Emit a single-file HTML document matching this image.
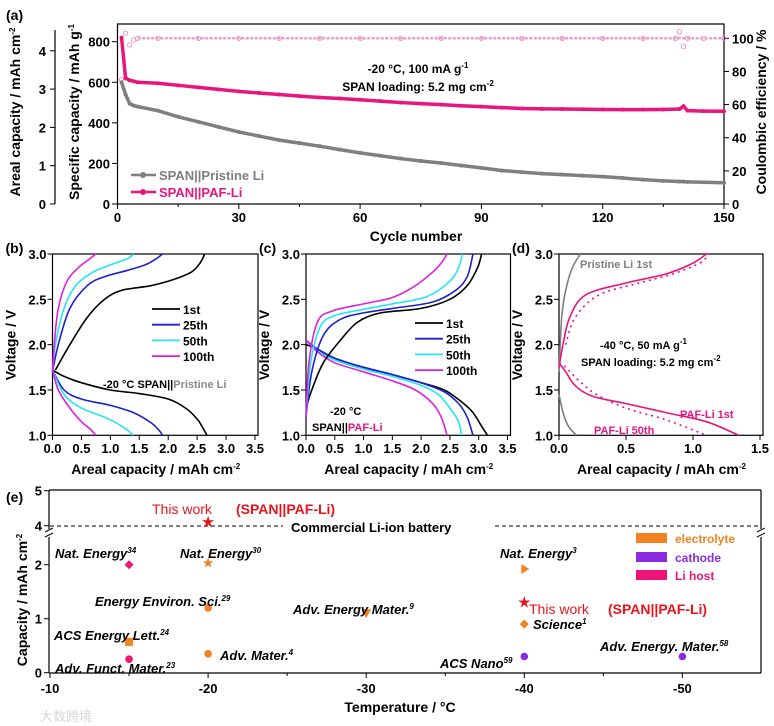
<!DOCTYPE html>
<html><head><meta charset="utf-8"><style>
body{margin:0;background:#fff;}
svg{display:block;font-family:"Liberation Sans",Arial,sans-serif;font-weight:bold;}
</style></head><body>
<svg id="fig" width="774" height="726" viewBox="0 0 774 726" xmlns="http://www.w3.org/2000/svg"></svg>
<script>
// ---------- Panel (a) data ----------
const cyclesA = [1,2,3,4,5,10,15,20,25,30,35,40,45,50,55,60,65,70,75,80,85,90,95,100,105,110,115,120,125,130,135,139,140,141,145,150];
const pristineCap = [600,540,495,485,480,460,430,405,380,355,335,315,300,285,268,252,238,224,212,202,190,178,165,157,150,145,140,135,128,120,114,111,110,109,107,105];
const pafCap = [820,620,610,605,600,595,585,575,565,555,547,540,532,525,520,514,507,500,495,490,484,480,475,471,469,468,467,466,465,465,466,468,482,460,458,457];
const ceCycles = [1,2,3,4,5,10,20,30,40,50,60,70,80,90,100,110,120,130,138,139,140,141,145,150];
const ceVals = [75,103,96,99,100,100,100,100,100,100,100,100,100,100,100,100,100,100,100,104,95,100,100,100];
const xTicksA = [0,30,60,90,120,150];
const yTicksSpec = [0,200,400,600,800];
const yTicksAreal = [0,1,2,3,4];
const yTicksCE = [0,20,40,60,80,100];

// ---------- Panel (b) data ----------
const legendB = ["1st","25th","50th","100th"];
const colorsBC = ["#000000","#1f1fd0","#22e6f0","#e020e0"];
const dischB = [
 [[0,1.72],[0.2,1.65],[0.5,1.58],[1.0,1.5],[1.5,1.46],[2.0,1.4],[2.3,1.3],[2.5,1.18],[2.6,1.08],[2.67,1.0]],
 [[0,1.72],[0.2,1.5],[0.5,1.4],[1.0,1.33],[1.4,1.25],[1.7,1.14],[1.85,1.05],[1.9,1.0]],
 [[0,1.72],[0.2,1.45],[0.5,1.3],[0.9,1.2],[1.2,1.1],[1.4,1.0]],
 [[0,1.72],[0.1,1.5],[0.3,1.3],[0.5,1.15],[0.65,1.07],[0.75,1.0]]];
const chargeB = [
 [[0.05,1.72],[0.3,2.0],[0.6,2.3],[0.9,2.5],[1.2,2.6],[1.7,2.65],[2.1,2.72],[2.4,2.8],[2.55,2.9],[2.63,3.0]],
 [[0,1.7],[0.1,2.0],[0.3,2.4],[0.6,2.65],[0.9,2.75],[1.3,2.82],[1.6,2.88],[1.8,2.95],[1.9,3.0]],
 [[0,1.7],[0.05,2.0],[0.2,2.4],[0.4,2.65],[0.7,2.8],[1.0,2.88],[1.3,2.95],[1.4,3.0]],
 [[0,1.7],[0.03,2.0],[0.1,2.4],[0.25,2.7],[0.45,2.85],[0.65,2.95],[0.75,3.0]]];
// ---------- Panel (c) data ----------
const dischC = [
 [[0,2.0],[0.2,1.95],[0.5,1.85],[1.0,1.75],[1.5,1.67],[2.0,1.58],[2.4,1.5],[2.7,1.37],[2.9,1.25],[3.05,1.1],[3.15,1.0]],
 [[0,2.05],[0.2,1.95],[0.5,1.85],[1.0,1.75],[1.5,1.67],[2.0,1.58],[2.4,1.48],[2.65,1.35],[2.8,1.2],[2.9,1.0]],
 [[0,2.05],[0.2,1.93],[0.5,1.83],[1.0,1.73],[1.5,1.65],[2.0,1.55],[2.3,1.45],[2.5,1.3],[2.65,1.15],[2.7,1.0]],
 [[0,2.05],[0.2,1.92],[0.5,1.8],[1.0,1.7],[1.5,1.6],[1.9,1.5],[2.2,1.35],[2.35,1.2],[2.45,1.0]]];
const chargeC = [
 [[0,1.3],[0.1,1.5],[0.3,1.8],[0.6,2.05],[0.9,2.25],[1.3,2.35],[2.0,2.4],[2.5,2.5],[2.8,2.65],[2.98,2.85],[3.05,3.0]],
 [[0,1.2],[0.1,1.7],[0.3,2.1],[0.6,2.28],[1.0,2.35],[1.5,2.4],[2.2,2.47],[2.6,2.6],[2.8,2.75],[2.9,3.0]],
 [[0,1.2],[0.08,1.8],[0.25,2.2],[0.5,2.32],[1.0,2.39],[1.5,2.45],[2.1,2.53],[2.5,2.7],[2.65,2.85],[2.72,3.0]],
 [[0,1.2],[0.05,1.8],[0.2,2.25],[0.45,2.37],[1.0,2.45],[1.5,2.52],[1.9,2.65],[2.2,2.8],[2.35,2.9],[2.45,3.0]]];
const xTicksBC = [0,0.5,1.0,1.5,2.0,2.5,3.0,3.5];
const yTicksV = [1.0,1.5,2.0,2.5,3.0];
// ---------- Panel (d) data ----------
const pristineD = [[0.16,3.0],[0.1,2.85],[0.05,2.6],[0.02,2.3],[0,1.7]];
const pristineDdis = [[0,1.45],[0.03,1.25],[0.07,1.1],[0.13,1.0]];
const paf1Dis = [[0,1.8],[0.05,1.7],[0.12,1.55],[0.25,1.43],[0.5,1.35],[0.8,1.25],[1.1,1.15],[1.34,1.0]];
const paf1Chg = [[0,1.75],[0.03,2.0],[0.08,2.3],[0.2,2.55],[0.5,2.68],[0.8,2.78],[1.0,2.9],[1.1,3.0]];
const paf50Dis = [[0,1.8],[0.05,1.75],[0.15,1.6],[0.28,1.45],[0.5,1.3],[0.8,1.17],[1.1,1.0]];
const paf50Chg = [[0.05,2.0],[0.12,2.3],[0.3,2.55],[0.6,2.68],[0.85,2.78],[1.05,2.9],[1.12,3.0]];
const xTicksD = [0,0.5,1.0,1.5];
// ---------- Panel (e) data ----------
const eTemps = [-15,-20,-40,-20,-30,-40,-15,-20,-15,-40,-50];
const eCaps  = [2.0,2.03,1.92,1.2,1.1,0.9,0.57,0.35,0.25,0.3,0.3];
const eTypes = ["lihost","electrolyte","electrolyte","electrolyte","electrolyte","electrolyte","electrolyte","electrolyte","lihost","cathode","cathode"];
const eShapes = ["diamond","star","triR","circle","triD","diamond","square","circle","circle","circle","circle"];
const thisTemps = [-20,-40];
const thisCaps = [4.1,1.3];
const xTicksE = [-10,-20,-30,-40,-50];

const NS="http://www.w3.org/2000/svg";
const svg=document.getElementById('fig');
function el(tag,attrs,parent){const e=document.createElementNS(NS,tag);for(const k in attrs)e.setAttribute(k,attrs[k]);(parent||svg).appendChild(e);return e;}
function txt(x,y,s,o,parent){o=o||{};const t=el('text',{x:x,y:y,'font-size':o.fs||12,fill:o.fill||'#000','text-anchor':o.anchor||'start'},parent);
 if(o.rot)t.setAttribute('transform','rotate('+o.rot+' '+x+' '+y+')');if(o.it)t.setAttribute('font-style','italic');if(o.nb)t.setAttribute('font-weight','normal');t.innerHTML=s;return t;}
const PINK="#e8157f",GRAY="#7f7f7f";
const SUP=(s)=>'<tspan dy="-5" font-size="8">'+s+'</tspan>';

// ================= Panel (a) =================
const ga=el('g',{});

const ax=(c)=>117.5+c/150*606.5;
const ayS=(v)=>204-v*(162.3/800);
const ayA=(v)=>204-v*38.3;
const ayC=(v)=>204-v*1.657;
el('rect',{x:117.5,y:24,width:606.5,height:180,fill:'none',stroke:'#000','stroke-width':1.2},ga);
xTicksA.forEach(t=>{el('line',{x1:ax(t),y1:204,x2:ax(t),y2:209,stroke:'#000'},ga);txt(ax(t),222,t,{fs:13,anchor:'middle'},ga);});
for(let t=15;t<150;t+=30)el('line',{x1:ax(t),y1:204,x2:ax(t),y2:207,stroke:'#000'},ga);
yTicksSpec.forEach(t=>{el('line',{x1:117.5,y1:ayS(t),x2:112,y2:ayS(t),stroke:'#000'},ga);txt(110,ayS(t)+5,t,{fs:13,anchor:'end'},ga);});
el('line',{x1:55,y1:30,x2:55,y2:204,stroke:'#000','stroke-width':1.2},ga);
yTicksAreal.forEach(t=>{el('line',{x1:55,y1:ayA(t),x2:50,y2:ayA(t),stroke:'#000'},ga);txt(46,ayA(t)+5,t,{fs:13,anchor:'end'},ga);});
yTicksCE.forEach(t=>{el('line',{x1:724,y1:ayC(t),x2:729,y2:ayC(t),stroke:'#000'},ga);txt(732,ayC(t)+5,t,{fs:13},ga);});
txt(20,112,'Areal capacity / mAh cm'+SUP('-2'),{fs:14,anchor:'middle',rot:-90},ga);
txt(79,112,'Specific capacity / mAh g'+SUP('-1'),{fs:14,anchor:'middle',rot:-90},ga);
txt(766,112,'Coulombic efficiency / %',{fs:14,anchor:'middle',rot:-90},ga);
txt(416,241,'Cycle number',{fs:14,anchor:'middle'},ga);
txt(6,20,'(a)',{fs:14},ga);
txt(418,73,'-20 °C, 100 mA g'+SUP('-1'),{fs:12,anchor:'middle'},ga);
txt(418,91,'SPAN loading: 5.2 mg cm'+SUP('-2'),{fs:12,anchor:'middle'},ga);
ceCycles.forEach((c,i)=>{const m=el('circle',{cx:ax(c),cy:ayC(ceVals[i]),r:2.2,fill:'none',stroke:'#e87fb8','stroke-width':0.8},ga);});
el('line',{x1:ax(5),y1:ayC(100),x2:ax(150),y2:ayC(100),stroke:'#e8a0c8','stroke-width':2.5,'stroke-dasharray':'3 1.5'},ga);
function series(xs,ys,color,name,parent,xf,yf){
 const p=el('polyline',{points:xs.map((c,i)=>xf(c)+','+yf(ys[i])).join(' '),fill:'none',stroke:color,'stroke-width':3.5},parent);
 
 xs.forEach((c,i)=>{const m=el('circle',{cx:xf(c),cy:yf(ys[i]),r:2,fill:color},parent);});
}
series(cyclesA,pristineCap,GRAY,'pristine-capacity-series',ga,ax,ayS);
series(cyclesA,pafCap,PINK,'paf-capacity-series',ga,ax,ayS);
const lg=el('g',{},ga);
el('line',{x1:131,y1:175,x2:156,y2:175,stroke:GRAY,'stroke-width':2.5},lg);el('circle',{cx:143,cy:175,r:3,fill:GRAY},lg);
txt(159,180,'SPAN||Pristine Li',{fs:13,fill:GRAY},lg);
el('line',{x1:131,y1:192,x2:156,y2:192,stroke:PINK,'stroke-width':2.5},lg);el('circle',{cx:143,cy:192,r:3,fill:PINK},lg);
txt(159,197,'SPAN||PAF-Li',{fs:13,fill:PINK},lg);

// ================= Voltage panels =================
function vPanel(name,x0,x1,xmax,xticks,label){
 const g=el('g',{});
 const fx=(v)=>x0+v/xmax*(x1-x0);const fy=(v)=>435.3-(v-1)/2*181.3;
 el('rect',{x:x0,y:254,width:x1-x0+3,height:181.3,fill:'none',stroke:'#000','stroke-width':1.2},g);
 xticks.forEach(t=>{el('line',{x1:fx(t),y1:435,x2:fx(t),y2:440,stroke:'#000'},g);txt(fx(t),453,t.toFixed(1),{fs:13,anchor:'middle'},g);});
 yTicksV.forEach(t=>{el('line',{x1:x0,y1:fy(t),x2:x0-5,y2:fy(t),stroke:'#000'},g);txt(x0-6,fy(t)+5,t.toFixed(1),{fs:13,anchor:'end'},g);});
 txt(x0-37,345,'Voltage / V',{fs:14,anchor:'middle',rot:-90},g);
 txt((x0+x1)/2+2,474,'Areal capacity / mAh cm'+SUP('-2'),{fs:14,anchor:'middle'},g);
 txt(x0-47,253,label,{fs:14},g);
 return {g,fx,fy};
}
function smoothPath(P){
 let d='M'+P[0][0].toFixed(1)+','+P[0][1].toFixed(1);
 for(let i=0;i<P.length-1;i++){
  const p0=P[i-1]||P[i],p1=P[i],p2=P[i+1],p3=P[i+2]||P[i+1];
  const c1=[p1[0]+(p2[0]-p0[0])/6,p1[1]+(p2[1]-p0[1])/6],c2=[p2[0]-(p3[0]-p1[0])/6,p2[1]-(p3[1]-p1[1])/6];
  d+=' C'+c1.map(v=>v.toFixed(1)).join(',')+' '+c2.map(v=>v.toFixed(1)).join(',')+' '+p2[0].toFixed(1)+','+p2[1].toFixed(1);
 }
 return d;
}
function curve(P,pts,color,name,extra){const p=el('path',Object.assign({d:smoothPath(pts.map(q=>[P.fx(q[0]),P.fy(q[1])])),fill:'none',stroke:color,'stroke-width':1.6,'stroke-linejoin':'round'},extra||{}),P.g);}
const B=vPanel('panel-b',52.5,255,3.5,xTicksBC,'(b)');
dischB.forEach((c,i)=>curve(B,c,colorsBC[i],'b-discharge-'+legendB[i]));
chargeB.forEach((c,i)=>curve(B,c,colorsBC[i],'b-charge-'+legendB[i]));
legendB.forEach((s,i)=>{const y=309+i*15.7;el('line',{x1:152,y1:y,x2:180,y2:y,stroke:colorsBC[i],'stroke-width':1.8},B.g);txt(183,y+5,s,{fs:12},B.g);});
const tb=txt(103,388,'-20 °C  SPAN||',{fs:11},B.g);tb.innerHTML+='<tspan fill="#888">Pristine Li</tspan>';

const C=vPanel('panel-c',306,507.5,3.5,xTicksBC,'(c)');
dischC.forEach((c,i)=>curve(C,c,colorsBC[i],'c-discharge-'+legendB[i]));
chargeC.forEach((c,i)=>curve(C,c,colorsBC[i],'c-charge-'+legendB[i]));
legendB.forEach((s,i)=>{const y=323+i*15.7;el('line',{x1:415,y1:y,x2:443,y2:y,stroke:colorsBC[i],'stroke-width':1.8},C.g);txt(446,y+5,s,{fs:12},C.g);});
txt(330,415,'-20 °C',{fs:11},C.g);
const tc=txt(312,431,'SPAN||',{fs:11},C.g);tc.innerHTML+='<tspan fill="'+PINK+'">PAF-Li</tspan>';

const D=vPanel('panel-d',559,760,1.5,xTicksD,'(d)');
curve(D,pristineD,GRAY,'d-pristine-charge');curve(D,pristineDdis,GRAY,'d-pristine-discharge');
curve(D,paf1Dis,PINK,'d-paf-1st-discharge');curve(D,paf1Chg,PINK,'d-paf-1st-charge');
curve(D,paf50Dis,PINK,'d-paf-50th-discharge',{'stroke-dasharray':'2 4'});curve(D,paf50Chg,PINK,'d-paf-50th-charge',{'stroke-dasharray':'2 4'});
txt(580,268,'Pristine Li 1st',{fs:11,fill:GRAY},D.g);
txt(600,349,'-40 °C, 50 mA g'+SUP('-1'),{fs:11},D.g);
txt(581,366,'SPAN loading: 5.2 mg cm'+SUP('-2'),{fs:11},D.g);
txt(680,418,'PAF-Li 1st',{fs:11,fill:PINK},D.g);
txt(594,434,'PAF-Li 50th',{fs:11,fill:PINK},D.g);

// ================= Panel (e) =================
const ge=el('g',{});
const ex=(t)=>50+(-10-t)/10*158.1;
const ey=(v)=>v>=3.5?525.7-(v-4)*35:672.7-v*54;
el('line',{x1:49,y1:490,x2:761,y2:490,stroke:'#000','stroke-width':1.2},ge);
el('line',{x1:49,y1:673,x2:761,y2:673,stroke:'#000','stroke-width':1.2},ge);
el('line',{x1:49,y1:490,x2:49,y2:529,stroke:'#000','stroke-width':1.2},ge);
el('line',{x1:49,y1:537,x2:49,y2:673,stroke:'#000','stroke-width':1.2},ge);
el('line',{x1:761,y1:490,x2:761,y2:529,stroke:'#000','stroke-width':1.2},ge);
el('line',{x1:761,y1:537,x2:761,y2:673,stroke:'#000','stroke-width':1.2},ge);
[49,761].forEach(x=>{el('line',{x1:x-4,y1:532,x2:x+4,y2:528,stroke:'#000'},ge);el('line',{x1:x-4,y1:537,x2:x+4,y2:533,stroke:'#000'},ge);});
xTicksE.forEach(t=>{el('line',{x1:ex(t),y1:673,x2:ex(t),y2:678,stroke:'#000'},ge);txt(ex(t),693,t,{fs:13,anchor:'middle'},ge);});
[-15,-25,-35,-45].forEach(t=>el('line',{x1:ex(t),y1:673,x2:ex(t),y2:676,stroke:'#000'},ge));
[0,1,2,4,5].forEach(t=>{el('line',{x1:49,y1:ey(t),x2:44,y2:ey(t),stroke:'#000'},ge);txt(42,ey(t)+5,t,{fs:13,anchor:'end'},ge);});
txt(27,600,'Capacity / mAh cm'+SUP('-2'),{fs:14,anchor:'middle',rot:-90},ge);
txt(400,712,'Temperature / °C',{fs:14,anchor:'middle'},ge);
txt(6,502,'(e)',{fs:14},ge);
el('line',{x1:50,y1:526,x2:283,y2:526,stroke:'#000','stroke-dasharray':'4 3'},ge);
el('line',{x1:495,y1:526,x2:760,y2:526,stroke:'#000','stroke-dasharray':'4 3'},ge);
txt(291,532,'Commercial Li-ion battery',{fs:13},ge);
const typeColor={electrolyte:'#f58220',cathode:'#8a2be2',lihost:'#ee1577'};
function marker(shape,x,y,c,r){
 let m;
 if(shape==='circle')m=el('circle',{cx:x,cy:y,r:r||3.8,fill:c},ge);
 else if(shape==='square')m=el('rect',{x:x-4,y:y-4,width:8,height:8,fill:c},ge);
 else if(shape==='diamond')m=el('polygon',{points:`${x},${y-4.5} ${x+4.5},${y} ${x},${y+4.5} ${x-4.5},${y}`,fill:c},ge);
 else if(shape==='triR')m=el('polygon',{points:`${x-3},${y-5} ${x+5},${y} ${x-3},${y+5}`,fill:c},ge);
 else if(shape==='triD')m=el('polygon',{points:`${x-5},${y-4} ${x+5},${y-4} ${x},${y+5}`,fill:c},ge);
 else {let p=[];for(let k=0;k<10;k++){const a=-Math.PI/2+k*Math.PI/5;const rr=k%2?2.3:(r||5.5);p.push((x+rr*Math.cos(a)).toFixed(1)+','+(y+rr*Math.sin(a)).toFixed(1));}m=el('polygon',{points:p.join(' '),fill:c},ge);}
 return m;
}
eTemps.forEach((t,i)=>{const m=marker(eShapes[i],ex(t),ey(eCaps[i]),typeColor[eTypes[i]]);});
thisTemps.forEach((t,i)=>{const m=marker('star',ex(t),ey(thisCaps[i]),'#e8141b',6.5);});
const R='#e8141b';
txt(152,514,'This work',{fs:14,fill:R,nb:true},ge);txt(236,514,'(SPAN||PAF-Li)',{fs:14,fill:R},ge);
txt(529,614,'This work',{fs:14,fill:R,nb:true},ge);txt(608,614,'(SPAN||PAF-Li)',{fs:14,fill:R},ge);
const labs=[[55,558,'Nat. Energy','34'],[180,558,'Nat. Energy','30'],[500,558,'Nat. Energy','3'],[95,606,'Energy Environ. Sci.','29'],[293,614,'Adv. Energy Mater.','9'],[533,629,'Science','1'],[54,640,'ACS Energy Lett.','24'],[220,660,'Adv. Mater.','4'],[55,673,'Adv. Funct. Mater.','23'],[440,668,'ACS Nano','59'],[600,651,'Adv. Energy. Mater.','58']];
labs.forEach(l=>{const t=txt(l[0],l[1],l[2]+SUP(l[3]),{fs:13,it:true},ge);});
const le=el('g',{},ge);
[['electrolyte','#f58220',533],['cathode','#8a2be2',552],['Li host','#ee1577',570]].forEach(a=>{el('rect',{x:636,y:a[2],width:31,height:10,fill:a[1]},le);txt(675,a[2]+10,a[0],{fs:12,fill:a[1]},le);});
const wm=txt(40,721,'大数跨境',{fs:13,fill:'#d8d8d8',nb:true});wm.setAttribute('font-family','"Liberation Sans","Noto Sans CJK SC",sans-serif');

</script>
</body></html>
